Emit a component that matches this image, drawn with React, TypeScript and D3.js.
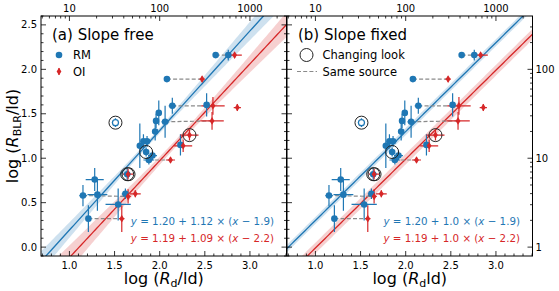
import * as d3 from 'd3'

const BLUE = '#1f77b4'
const RED = '#d62728'
const FONT = 'DejaVu Sans, Verdana, sans-serif'

// RM points: log Rd, log R_BLR, x error, y error
const rmX = [2.62, 2.76, 2.08, 2.14, 2.52, 2.06, 1.99, 1.96, 1.95, 1.78, 1.82, 1.86, 1.85, 1.92, 1.88, 2.23, 1.28, 1.15, 1.31, 1.62, 1.54, 1.21, 1.51, 1.64]
const rmY = [2.16, 2.16, 1.89, 1.59, 1.6, 1.41, 1.51, 1.42, 1.3, 1.14, 1.19, 1.19, 1.07, 1.03, 0.98, 1.15, 0.76, 0.58, 0.59, 0.6, 0.48, 0.32, 1.4, 0.82]
const rmXErr = [0, 0.02, 0.02, 0.04, 0.03, 0.04, 0.02, 0.02, 0.02, 0.03, 0.03, 0.04, 0.03, 0.05, 0.06, 0.02, 0.1, 0.04, 0.11, 0.04, 0.14, 0.03, 0.04, 0.04]
const rmYErr = [0, 0.06, 0.02, 0.09, 0.13, 0.18, 0.14, 0.08, 0.1, 0.25, 0.08, 0.06, 0.05, 0.05, 0.05, 0.12, 0.13, 0.12, 0.18, 0.06, 0.18, 0.15, 0.05, 0.07]
const rmOpen = [22]

// OI points
const oiX = [2.83, 2.47, 2.59, 2.58, 2.86, 2.33, 2.26, 2.12, 1.65, 1.73, 1.65, 1.58]
const oiY = [2.16, 1.89, 1.59, 1.42, 1.57, 1.26, 1.14, 0.98, 0.82, 0.6, 0.57, 0.32]
const oiXErr = [0.08, 0.03, 0.13, 0.13, 0.04, 0.1, 0.1, 0.05, 0.06, 0.06, 0.03, 0.03]
const oiYErr = [0.03, 0.03, 0.1, 0.1, 0.04, 0.06, 0.07, 0.03, 0.06, 0.04, 0.08, 0.15]

// same source pairs: [rm index, oi index]
const samePairs = [[0, 0], [2, 1], [3, 2], [5, 3], [14, 7], [17, 10], [21, 11]]
// changing look sources (x, y)
const changingX = [1.51, 1.85, 2.33, 1.64, 1.655]
const changingY = [1.4, 1.07, 1.26, 0.82, 0.82]

// fits: intercept at pivot, slope, pivot, sigma intercept, sigma slope
const fitFree = [
  { a: 1.2, b: 1.12, x0: 1.9, sa: 0.03, sb: 0.09, color: BLUE },
  { a: 1.19, b: 1.09, x0: 2.2, sa: 0.04, sb: 0.11, color: RED },
]
const fitFixed = [
  { a: 1.2, b: 1.0, x0: 1.9, sa: 0.04, sb: 0, color: BLUE },
  { a: 1.19, b: 1.0, x0: 2.2, sa: 0.06, sb: 0, color: RED },
]
const eqFree = ['1.20 + 1.12', '1.9', '1.19 + 1.09', '2.2']
const eqFixed = ['1.20 + 1.0', '1.9', '1.19 + 1.0', '2.2']

const xTicks = [1.0, 1.5, 2.0, 2.5, 3.0]
const yTicks = [0.0, 0.5, 1.0, 1.5, 2.0, 2.5]
const logTicks = [1, 10, 100, 1000]

const TOP = 16
const BOTTOM = 256
const PW = 245.5
const X_DOMAIN = [0.685, 3.405]
const Y_DOMAIN = [-0.1, 2.6]

const y = d3.scaleLinear(Y_DOMAIN, [BOTTOM, TOP])

const diamond = 'M0,-3.8L2.4,0L0,3.8L-2.4,0Z'

function Equation({ xr, yb, color, parts }: { xr: number; yb: number; color: string; parts: string[] }) {
  return (
    <text x={xr} y={yb} textAnchor="end" fill={color} fontSize={10.3} fontFamily={FONT}>
      <tspan fontStyle="italic">y</tspan>
      {` = ${parts[0]} × (`}
      <tspan fontStyle="italic">x</tspan>
      {` − ${parts[1]})`}
    </text>
  )
}

function Panel({ left, fits, eq, label, id, isLeft }: any) {
  const x = d3.scaleLinear(X_DOMAIN, [left, left + PW])
  const right = left + PW
  const samples = d3.range(X_DOMAIN[0], X_DOMAIN[1] + 0.001, 0.02)
  const minorX = d3.range(0.7, 3.41, 0.1).filter((v) => Math.abs(v * 2 - Math.round(v * 2)) > 0.01)
  const minorY = d3.range(-0.1, 2.61, 0.1).filter((v) => Math.abs(v * 2 - Math.round(v * 2)) > 0.01)
  const logMinor: number[] = []
  for (let n = 0; n < 4; n++) for (let k = 2; k < 10; k++) logMinor.push(n + Math.log10(k))
  const minorTop = logMinor.filter((v) => v > X_DOMAIN[0] && v < X_DOMAIN[1])
  const minorRight = logMinor.filter((v) => v > Y_DOMAIN[0] && v < Y_DOMAIN[1])

  return (
    <g>
      <defs>
        <clipPath id={id}>
          <rect x={left} y={TOP} width={PW} height={BOTTOM - TOP} />
        </clipPath>
      </defs>
      <g clipPath={`url(#${id})`}>
        {fits.map((f: any, i: number) => {
          const half = (v: number) => Math.sqrt(f.sa * f.sa + (f.sb * (v - f.x0)) ** 2)
          const mid = (v: number) => f.a + f.b * (v - f.x0)
          const band = d3
            .area<number>()
            .x((v) => x(v))
            .y0((v) => y(mid(v) - half(v)))
            .y1((v) => y(mid(v) + half(v)))
          const line = d3
            .line<number>()
            .x((v) => x(v))
            .y((v) => y(mid(v)))
          return (
            <g key={i}>
              <path d={band(samples)!} fill={f.color} fillOpacity={0.22} />
              <path d={line(samples)!} fill="none" stroke={f.color} strokeWidth={1.3} />
            </g>
          )
        })}
        {samePairs.map(([r, o], i) => (
          <line key={i} x1={x(rmX[r])} x2={x(oiX[o])} y1={y(rmY[r])} y2={y(oiY[o])} stroke="#8a8a8a" strokeWidth={1.2} strokeDasharray="4,2.2" />
        ))}
        {rmX.map((v, i) => (
          <g key={'rm' + i} stroke={BLUE} strokeWidth={1.2}>
            <line x1={x(v - rmXErr[i])} x2={x(v + rmXErr[i])} y1={y(rmY[i])} y2={y(rmY[i])} />
            <line x1={x(v)} x2={x(v)} y1={y(rmY[i] - rmYErr[i])} y2={y(rmY[i] + rmYErr[i])} />
          </g>
        ))}
        {oiX.map((v, i) => (
          <g key={'oi' + i} stroke={RED} strokeWidth={1.2}>
            <line x1={x(v - oiXErr[i])} x2={x(v + oiXErr[i])} y1={y(oiY[i])} y2={y(oiY[i])} />
            <line x1={x(v)} x2={x(v)} y1={y(oiY[i] - oiYErr[i])} y2={y(oiY[i] + oiYErr[i])} />
          </g>
        ))}
        {rmX.map((v, i) =>
          rmOpen.includes(i) ? (
            <circle key={'m' + i} cx={x(v)} cy={y(rmY[i])} r={3} fill="white" stroke={BLUE} strokeWidth={1.2} />
          ) : (
            <circle key={'m' + i} cx={x(v)} cy={y(rmY[i])} r={3.3} fill={BLUE} />
          ),
        )}
        {oiX.map((v, i) => (
          <path key={'d' + i} d={diamond} transform={`translate(${x(v)},${y(oiY[i])})`} fill={RED} />
        ))}
        {changingX.map((v, i) => (
          <circle key={'c' + i} cx={x(v)} cy={y(changingY[i])} r={6.5} fill="none" stroke="#222" strokeWidth={1} />
        ))}
      </g>

      {/* frame */}
      <rect x={left} y={TOP} width={PW} height={BOTTOM - TOP} fill="none" stroke="#000" strokeWidth={1} />

      {/* ticks, all pointing inward */}
      <g stroke="#000" strokeWidth={0.8}>
        {xTicks.map((t) => (
          <line key={'xb' + t} x1={x(t)} x2={x(t)} y1={BOTTOM} y2={BOTTOM - 5} />
        ))}
        {minorX.map((t) => (
          <line key={'xm' + t} x1={x(t)} x2={x(t)} y1={BOTTOM} y2={BOTTOM - 2.5} />
        ))}
        {[1, 2, 3].map((t) => (
          <line key={'xt' + t} x1={x(t)} x2={x(t)} y1={TOP} y2={TOP + 5} />
        ))}
        {minorTop.map((t) => (
          <line key={'xtm' + t} x1={x(t)} x2={x(t)} y1={TOP} y2={TOP + 2.5} />
        ))}
        {yTicks.map((t) => (
          <line key={'yl' + t} x1={left} x2={left + 5} y1={y(t)} y2={y(t)} />
        ))}
        {minorY.map((t) => (
          <line key={'ylm' + t} x1={left} x2={left + 2.5} y1={y(t)} y2={y(t)} />
        ))}
        {isLeft
          ? yTicks.map((t) => <line key={'yr' + t} x1={right} x2={right - 5} y1={y(t)} y2={y(t)} />)
          : [0, 1, 2].map((t) => <line key={'yr' + t} x1={right} x2={right - 5} y1={y(t)} y2={y(t)} />)}
        {isLeft
          ? minorY.map((t) => <line key={'yrm' + t} x1={right} x2={right - 2.5} y1={y(t)} y2={y(t)} />)
          : minorRight.map((t) => <line key={'yrm' + t} x1={right} x2={right - 2.5} y1={y(t)} y2={y(t)} />)}
      </g>

      <g fontFamily={FONT} fontSize={10} fill="#000">
        {xTicks.map((t) => (
          <text key={'xl' + t} x={x(t)} y={268.5} textAnchor="middle">
            {t.toFixed(1)}
          </text>
        ))}
        {logTicks.slice(1).map((t, i) => (
          <text key={'tl' + t} x={x(i + 1)} y={12} textAnchor="middle">
            {t}
          </text>
        ))}
        {isLeft &&
          yTicks.map((t) => (
            <text key={'ylab' + t} x={left - 4} y={y(t) + 3.6} textAnchor="end">
              {t.toFixed(1)}
            </text>
          ))}
        {!isLeft &&
          logTicks.slice(0, 3).map((t, i) => (
            <text key={'rl' + t} x={right + 3} y={y(i) + 3.6} textAnchor="start">
              {t}
            </text>
          ))}
      </g>

      <text x={left + 11} y={40} fontFamily={FONT} fontSize={15} fill="#000">
        {label}
      </text>

      <Equation xr={left + 233} yb={225} color={BLUE} parts={[eq[0], eq[1]]} />
      <Equation xr={left + 233} yb={242} color={RED} parts={[eq[2], eq[3]]} />

      <text x={left + PW / 2} y={284} textAnchor="middle" fontFamily={FONT} fontSize={16} fill="#000">
        {'log ('}
        <tspan fontStyle="italic">R</tspan>
        <tspan fontSize={11} dy={3}>
          d
        </tspan>
        <tspan dy={-3}>{isLeft ? '/ld)' : 'ld)'}</tspan>
      </text>
    </g>
  )
}

export default function App() {
  const L = 41
  const R = 287
  return (
    <svg width={559} height={291} style={{ position: 'absolute', left: 0, top: 0, background: 'white' }}>
      <Panel left={L} fits={fitFree} eq={eqFree} label="(a) Slope free" id="clipA" isLeft />
      <Panel left={R} fits={fitFixed} eq={eqFixed} label="(b) Slope fixed" id="clipB" isLeft={false} />

      {/* legend panel a */}
      <g fontFamily={FONT} fontSize={11.5} fill="#000">
        <circle cx={59} cy={55} r={3.3} fill={BLUE} />
        <text x={73} y={59}>RM</text>
        <line x1={59} x2={59} y1={68} y2={75} stroke={RED} strokeWidth={1.2} />
        <path d={diamond} transform="translate(59,71.5)" fill={RED} />
        <text x={73} y={75.5}>OI</text>
      </g>
      {/* legend panel b */}
      <g fontFamily={FONT} fontSize={11.5} fill="#000">
        <circle cx={306.5} cy={55} r={6.5} fill="none" stroke="#222" strokeWidth={1} />
        <text x={322.5} y={59}>Changing look</text>
        <line x1={297} x2={317} y1={71.5} y2={71.5} stroke="#8a8a8a" strokeWidth={1.2} strokeDasharray="4,2.2" />
        <text x={322.5} y={75.5}>Same source</text>
      </g>

      <text transform="translate(18,136) rotate(-90)" textAnchor="middle" fontFamily={FONT} fontSize={16} fill="#000">
        {'log ('}
        <tspan fontStyle="italic">R</tspan>
        <tspan fontSize={11} dy={3}>
          BLR
        </tspan>
        <tspan dy={-3}>/ld)</tspan>
      </text>
    </svg>
  )
}
